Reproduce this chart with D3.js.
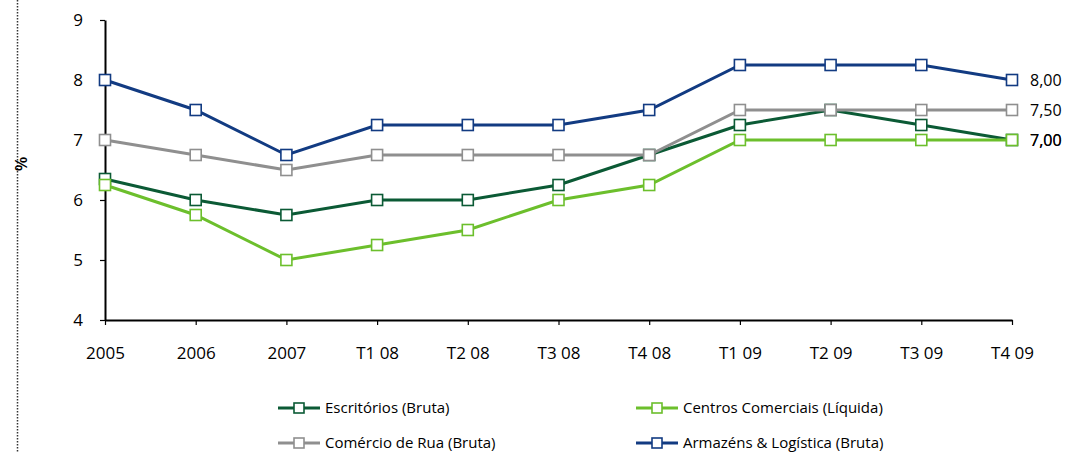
<!DOCTYPE html>
<html>
<head>
<meta charset="utf-8">
<script src="https://cdn.jsdelivr.net/npm/d3@7"></script>
<style>
  body { margin: 0; background: #fff; }
  text { font-family: "Open Sans", "DejaVu Sans", sans-serif; font-weight: 400; fill: #000; }
</style>
</head>
<body>
<div id="canvas"></div>
<script>
const periods = ["2005", "2006", "2007", "T1 08", "T2 08", "T3 08", "T4 08", "T1 09", "T2 09", "T3 09", "T4 09"];
const yTicks = [4, 5, 6, 7, 8, 9];

const escritorios = [6.35, 6.0, 5.75, 6.0, 6.0, 6.25, 6.75, 7.25, 7.5, 7.25, 7.0];
const centros = [6.25, 5.75, 5.0, 5.25, 5.5, 6.0, 6.25, 7.0, 7.0, 7.0, 7.0];
const comercio = [7.0, 6.75, 6.5, 6.75, 6.75, 6.75, 6.75, 7.5, 7.5, 7.5, 7.5];
const armazens = [8.0, 7.5, 6.75, 7.25, 7.25, 7.25, 7.5, 8.25, 8.25, 8.25, 8.0];

const seriesNames = ["Escritórios (Bruta)", "Centros Comerciais (Líquida)", "Comércio de Rua (Bruta)", "Armazéns & Logística (Bruta)"];
const seriesColors = ["#0b5a35", "#6cbf2c", "#8f8f8f", "#123b82"];
const allSeries = [escritorios, centros, comercio, armazens];

const width = 1078, height = 452;
const margin = { top: 20, left: 105, right: 66, bottom: 132 };

const svg = d3.select("#canvas").append("svg")
    .attr("width", width)
    .attr("height", height);

const x = d3.scalePoint()
    .domain(periods)
    .range([margin.left, width - margin.right]);

const y = d3.scaleLinear()
    .domain([4, 9])
    .range([height - margin.bottom, margin.top]);

// dotted side rule
svg.append("line")
    .attr("x1", 17.5).attr("x2", 17.5)
    .attr("y1", 0).attr("y2", height)
    .attr("stroke", "#333")
    .attr("stroke-width", 1.5)
    .attr("stroke-dasharray", "1.5,1.5");

svg.append("text")
    .text("%")
    .attr("transform", `translate(27, ${y(6.6)}) rotate(-90)`)
    .attr("text-anchor", "middle")
    .style("font-size", "17px")
    .style("font-weight", "600");

// axes
const yAxis = svg.append("g")
    .attr("transform", `translate(${margin.left},0)`)
    .call(d3.axisLeft(y).tickValues(yTicks).tickFormat(d3.format("d")).tickSize(5).tickSizeOuter(0).tickPadding(17));

const xAxis = svg.append("g")
    .attr("transform", `translate(0,${y(4)})`)
    .call(d3.axisBottom(x).tickSize(5).tickSizeOuter(0).tickPadding(22));

[yAxis, xAxis].forEach(g => {
    g.select(".domain").attr("stroke", "#000").attr("stroke-width", 2);
    g.selectAll(".tick line").attr("stroke", "#000").attr("stroke-width", 1.2);
    g.selectAll("text").style("font-size", "17px").attr("fill", "#000");
});

// lines + markers
const line = d3.line()
    .x((d, i) => x(periods[i]))
    .y(d => y(d));

allSeries.forEach((vals, s) => {
    svg.append("path")
        .datum(vals)
        .attr("fill", "none")
        .attr("stroke", seriesColors[s])
        .attr("stroke-width", 3)
        .attr("d", line);

    svg.selectAll(null)
        .data(vals)
        .enter()
        .append("rect")
        .attr("x", (d, i) => x(periods[i]) - 5.5)
        .attr("y", d => y(d) - 5.5)
        .attr("width", 11)
        .attr("height", 11)
        .attr("fill", "#fff")
        .attr("stroke", seriesColors[s])
        .attr("stroke-width", 1.6);

    // end value label
    const last = vals[vals.length - 1];
    svg.append("text")
        .text(last.toFixed(2).replace(".", ","))
        .attr("x", x(periods[periods.length - 1]) + 18)
        .attr("y", y(last))
        .attr("dy", "0.35em")
        .style("font-size", "16px");
});

// legend
const legendPos = [[278, 408], [636, 408], [278, 443], [636, 443]];
seriesNames.forEach((name, s) => {
    const g = svg.append("g").attr("transform", `translate(${legendPos[s][0]},${legendPos[s][1]})`);
    g.append("line")
        .attr("x1", 0).attr("x2", 42)
        .attr("y1", 0).attr("y2", 0)
        .attr("stroke", seriesColors[s])
        .attr("stroke-width", 3);
    g.append("rect")
        .attr("x", 16).attr("y", -5)
        .attr("width", 10).attr("height", 10)
        .attr("fill", "#fff")
        .attr("stroke", seriesColors[s])
        .attr("stroke-width", 1.6);
    g.append("text")
        .text(name)
        .attr("x", 47)
        .attr("dy", "0.35em")
        .style("font-size", "15px");
});
</script>
</body>
</html>
